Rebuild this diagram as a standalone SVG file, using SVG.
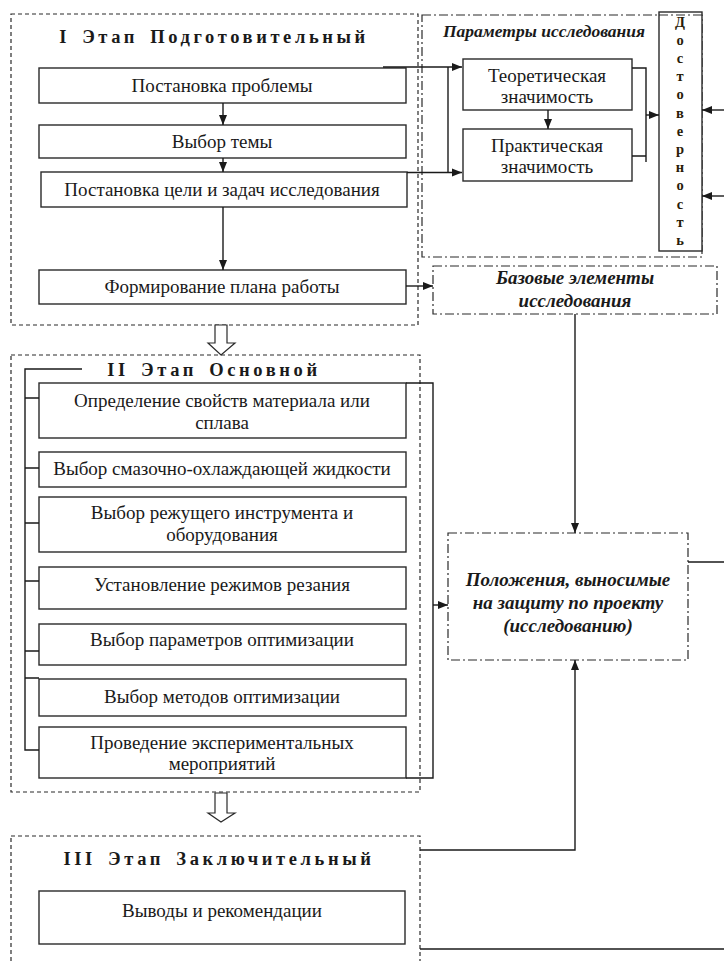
<svg xmlns="http://www.w3.org/2000/svg" width="724" height="961" viewBox="0 0 724 961" font-family="Liberation Serif, Times New Roman, serif">
<defs>
<marker id="ah" markerUnits="userSpaceOnUse" markerWidth="10" markerHeight="10" viewBox="0 0 10 10" refX="10" refY="5" orient="auto">
<path d="M0,1 L10,5 L0,9 Z" fill="#1a1a1a"/>
</marker>
</defs>
<style>
.box{fill:#fff;stroke:#2a2a2a;stroke-width:1.4}
.stage{fill:none;stroke:#2a2a2a;stroke-width:1.2;stroke-dasharray:4 3}
.dd{fill:none;stroke:#2a2a2a;stroke-width:1.2;stroke-dasharray:9 3 2 3}
.ln{fill:none;stroke:#1a1a1a;stroke-width:1.4}
text{font-family:'Liberation Serif','DejaVu Serif',serif}
.t{font-size:19px;fill:#1a1a1a;text-anchor:middle}
.h{font-size:18.5px;font-weight:bold;fill:#1a1a1a;text-anchor:middle;letter-spacing:3.6px;word-spacing:4px}
.it{font-size:19px;font-weight:bold;font-style:italic;fill:#1a1a1a;text-anchor:middle}
.v{font-size:14.5px;font-weight:bold;fill:#2a1c08;text-anchor:middle}
.hollow{fill:#fff;stroke:#2a2a2a;stroke-width:1.2}
</style>

<g id="stage1">
<rect class="stage" x="11" y="14" width="407" height="311"/>
<text class="h" x="214" y="43">I Этап Подготовительный</text>
</g>
<g id="params">
<rect class="dd" x="422" y="15" width="280" height="242"/>
<text class="it" x="544" y="37" style="font-size:17.5px">Параметры исследования</text>
</g>
<g id="n1"><rect class="box" x="39" y="68" width="367" height="35"/><text class="t" x="222" y="92">Постановка проблемы</text></g>
<g id="n2"><rect class="box" x="39" y="125" width="367" height="33"/><text class="t" x="222" y="148">Выбор темы</text></g>
<g id="n3"><rect class="box" x="41" y="172" width="366" height="35"/><text class="t" x="222" y="196">Постановка цели и задач исследования</text></g>
<g id="n4"><rect class="box" x="39" y="270" width="367" height="34"/><text class="t" x="222" y="293">Формирование плана работы</text></g>
<g id="theor"><rect class="box" x="463" y="59" width="169" height="51"/><text class="t" x="547" y="82">Теоретическая</text><text class="t" x="547" y="103">значимость</text></g>
<g id="pract"><rect class="box" x="463" y="129" width="169" height="52"/><text class="t" x="547" y="152">Практическая</text><text class="t" x="547" y="173">значимость</text></g>
<g id="dostov">
<rect class="box" x="659" y="12" width="43" height="239"/>
<line class="dd" x1="659" y1="15" x2="702" y2="15"/>
<text class="v" x="680" y="27">Д</text>
<text class="v" x="680" y="45">о</text>
<text class="v" x="680" y="63">с</text>
<text class="v" x="680" y="81">т</text>
<text class="v" x="680" y="99">о</text>
<text class="v" x="680" y="118">в</text>
<text class="v" x="680" y="136">е</text>
<text class="v" x="680" y="154">р</text>
<text class="v" x="680" y="172">н</text>
<text class="v" x="680" y="190">о</text>
<text class="v" x="680" y="209">с</text>
<text class="v" x="680" y="227">т</text>
<text class="v" x="680" y="245">ь</text>
</g>
<g id="base"><rect class="dd" x="433" y="266" width="284" height="48"/><text class="it" x="575" y="284">Базовые элементы</text><text class="it" x="575" y="307">исследования</text></g>

<g id="stage2">
<rect class="stage" x="11" y="355" width="409" height="437"/>
<text class="h" x="214" y="376">II Этап Основной</text>
</g>
<g id="m1"><rect class="box" x="39" y="383" width="367" height="55"/><text class="t" x="222" y="407">Определение свойств материала или</text><text class="t" x="222" y="429">сплава</text></g>
<g id="m2"><rect class="box" x="39" y="452" width="367" height="35"/><text class="t" x="222" y="475">Выбор смазочно-охлаждающей жидкости</text></g>
<g id="m3"><rect class="box" x="39" y="497" width="367" height="55"/><text class="t" x="222" y="519">Выбор режущего инструмента и</text><text class="t" x="222" y="541">оборудования</text></g>
<g id="m4"><rect class="box" x="39" y="567" width="367" height="42"/><text class="t" x="222" y="591">Установление режимов резания</text></g>
<g id="m5"><rect class="box" x="39" y="624" width="367" height="41"/><text class="t" x="222" y="646">Выбор параметров оптимизации</text></g>
<g id="m6"><rect class="box" x="39" y="679" width="367" height="37"/><text class="t" x="222" y="703">Выбор методов оптимизации</text></g>
<g id="m7"><rect class="box" x="39" y="727" width="367" height="51"/><text class="t" x="222" y="749">Проведение экспериментальных</text><text class="t" x="222" y="770">мероприятий</text></g>
<g id="defense"><rect class="dd" x="448" y="533" width="240" height="127"/><text class="it" x="568" y="586">Положения, выносимые</text><text class="it" x="568" y="609">на защиту по проекту</text><text class="it" x="568" y="632">(исследованию)</text></g>

<g id="stage3">
<rect class="stage" x="11" y="836" width="409" height="140"/>
<text class="h" x="219" y="865">III Этап Заключительный</text>
</g>
<g id="r1"><rect class="box" x="39" y="891" width="366" height="53"/><text class="t" x="222" y="917">Выводы и рекомендации</text></g>

<g id="connectors">
<line class="ln" x1="223" y1="103" x2="223" y2="125" marker-end="url(#ah)"/>
<line class="ln" x1="223" y1="158" x2="223" y2="172" marker-end="url(#ah)"/>
<line class="ln" x1="223" y1="207" x2="223" y2="270" marker-end="url(#ah)"/>
<path class="ln" d="M383,67 H462" marker-end="url(#ah)"/>
<path class="ln" d="M448,67 V172.5"/>
<path class="ln" d="M407,172.5 H462" marker-end="url(#ah)"/>
<line class="ln" x1="548" y1="110" x2="548" y2="129" marker-end="url(#ah)"/>
<path class="ln" d="M632,68 H646 V162 M632,156 H646"/>
<path class="ln" d="M646,115 H659" marker-end="url(#ah)"/>
<path class="ln" d="M724,110 H702" marker-end="url(#ah)"/>
<path class="ln" d="M724,196 H702" marker-end="url(#ah)"/>
<path class="ln" d="M406,286 H433" marker-end="url(#ah)"/>
<path class="ln" d="M575,314 V533" marker-end="url(#ah)"/>
<path class="ln" d="M82,369 H25 V750 H39 M25,398 H39 M25,468 H39 M25,523 H39 M25,581 H39 M25,651 H39 M25,678 H39"/>
<path class="ln" d="M406,383 H433 V778 H406"/>
<path class="ln" d="M433,605 H448" marker-end="url(#ah)"/>
<path class="ln" d="M688,562 H724"/>
<path class="ln" d="M420,850 H575 V660" marker-end="url(#ah)"/>
<path class="ln" d="M420,949 H724"/>
<polygon class="hollow" points="215,325 227,325 227,343 235,343 221,355 208,343 215,343"/>
<polygon class="hollow" points="215,793 227,793 227,813 235,813 221,822 208,813 215,813"/>
</g>
</svg>
